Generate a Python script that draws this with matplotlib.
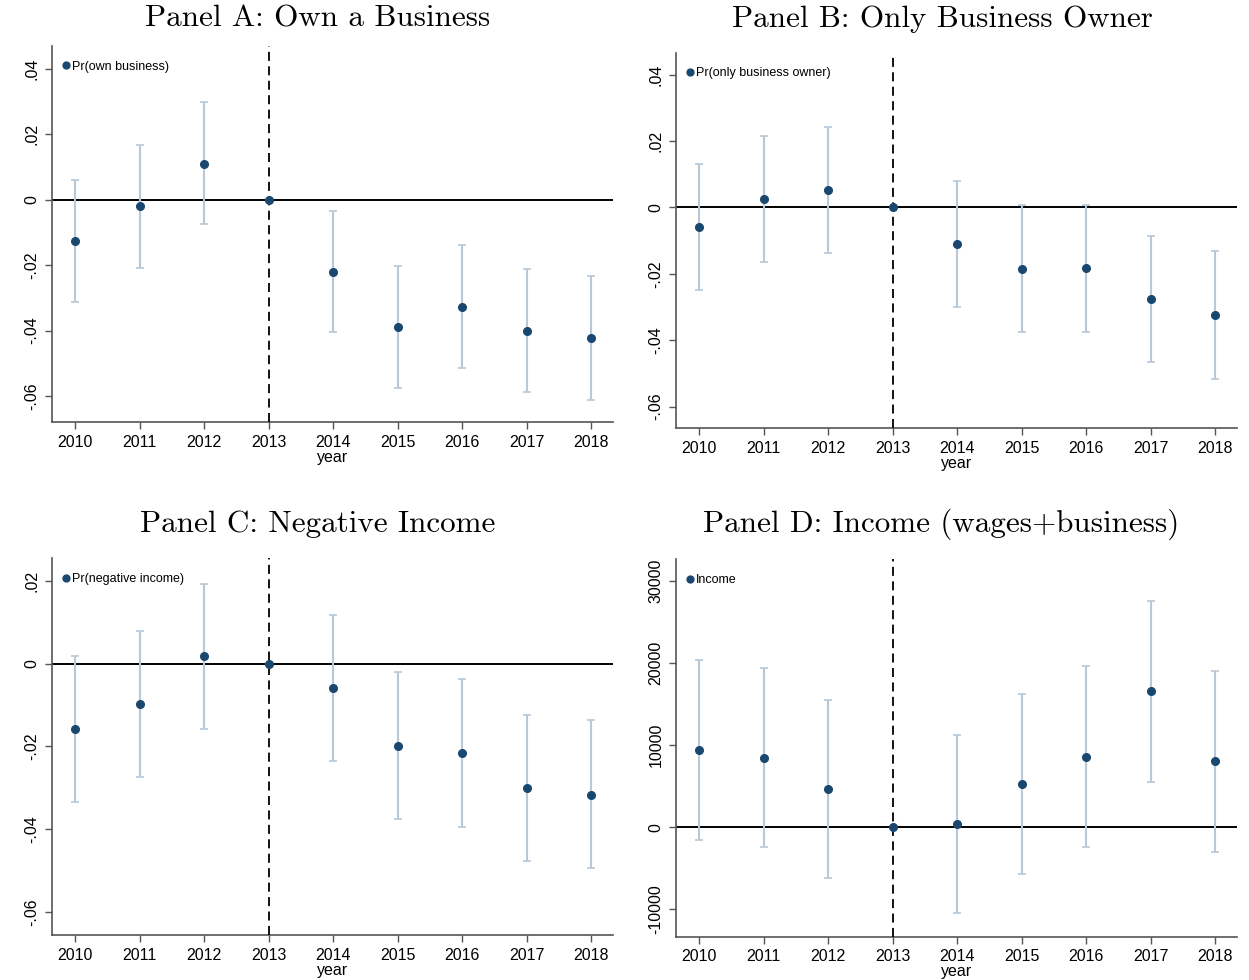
import numpy as np
import matplotlib
matplotlib.use("Agg")
import matplotlib.pyplot as plt

years = [2010, 2011, 2012, 2013, 2014, 2015, 2016, 2017, 2018]

# Panel A: own a business
own_b = [-0.0126, -0.0021, 0.0110, 0.0, -0.0220, -0.0390, -0.0328, -0.0401, -0.0423]
own_hi = [0.0060, 0.0166, 0.0297, 0.0, -0.0034, -0.0202, -0.0140, -0.0213, -0.0234]
own_lo = [-0.0313, -0.0208, -0.0075, 0.0, -0.0406, -0.0575, -0.0514, -0.0589, -0.0613]

# Panel B: only business owner
only_b = [-0.0060, 0.0024, 0.0051, 0.0, -0.0110, -0.0185, -0.0184, -0.0276, -0.0324]
only_hi = [0.0131, 0.0215, 0.0242, 0.0, 0.0080, 0.0006, 0.0008, -0.0087, -0.0132]
only_lo = [-0.0248, -0.0164, -0.0136, 0.0, -0.0300, -0.0375, -0.0375, -0.0467, -0.0516]

# Panel C: negative income
neg_b = [-0.0159, -0.0097, 0.0018, 0.0, -0.0059, -0.0198, -0.0216, -0.0301, -0.0317]
neg_hi = [0.0019, 0.0080, 0.0194, 0.0, 0.0118, -0.0020, -0.0037, -0.0123, -0.0137]
neg_lo = [-0.0335, -0.0273, -0.0159, 0.0, -0.0236, -0.0376, -0.0394, -0.0478, -0.0494]

# Panel D: income
inc_b = [9430, 8490, 4670, 0, 410, 5240, 8620, 16580, 8050]
inc_hi = [20370, 19460, 15560, 0, 11300, 16270, 19630, 27640, 19110]
inc_lo = [-1510, -2360, -6220, 0, -10490, -5690, -2360, 5570, -3000]

prob_ticks = [-0.06, -0.04, -0.02, 0, 0.02, 0.04]
prob_labels = ['-.06', '-.04', '-.02', '0', '.02', '.04']
inc_ticks = [-10000, 0, 10000, 20000, 30000]
inc_labels = ['-10000', '0', '10000', '20000', '30000']

W, H = 1249, 980
navy = '#1a476f'
ci_col = '#b8c8d8'
plt.rcParams['font.family'] = ['Liberation Sans', 'DejaVu Sans']

fig = plt.figure(figsize=(W / 100, H / 100), dpi=100)


def rect(l, t, r, b):
    return [l / W, 1 - b / H, (r - l) / W, (b - t) / H]


def panel(box, b, lo, hi, ylim, yt, ylab, leg):
    ax = fig.add_axes(rect(*box))
    b = np.array(b, dtype=float)
    err = [b - np.array(lo), np.array(hi) - b]
    ax.errorbar(years, b, yerr=err, fmt='none', ecolor=ci_col, elinewidth=1.5,
                capsize=3, capthick=1.2, zorder=2)
    ax.plot(years, b, 'o', color=navy, markersize=5.5, label=leg, zorder=4)
    ax.axhline(0, color='black', lw=1.4, zorder=1)
    ax.axvline(2013, color='black', lw=1.3, ls=(0, (5, 3)), zorder=3)
    ax.set_xlim(2009.64, 2018.34)
    ax.set_ylim(*ylim)
    ax.set_xticks(years)
    ax.set_xticklabels([str(y) for y in years], fontsize=11.5)
    ax.set_yticks(yt)
    ax.set_yticklabels(ylab, fontsize=11.5, rotation=90, va='center')
    ax.set_xlabel('year', fontsize=11.5, labelpad=0)
    for s in ['top', 'right']:
        ax.spines[s].set_visible(False)
    for s in ['left', 'bottom']:
        ax.spines[s].set_color('#555555')
        ax.spines[s].set_linewidth(1.2)
    ax.tick_params(length=5, color='#555555', width=1, pad=4)
    ax.legend(loc='upper left', bbox_to_anchor=(-0.002, 0.984), frameon=False,
              fontsize=9, handletextpad=0.0, handlelength=1.0,
              borderaxespad=0.3, markerscale=0.9)
    return ax


panel((52, 46, 613, 422.5), own_b, own_lo, own_hi, (-0.0681, 0.0469),
      prob_ticks, prob_labels, 'Pr(own business)')
panel((676, 52.7, 1237, 428.5), only_b, only_lo, only_hi, (-0.0666, 0.0466),
      prob_ticks, prob_labels, 'Pr(only business owner)')
panel((52, 558.3, 613, 935), neg_b, neg_lo, neg_hi, (-0.0656, 0.0255),
      prob_ticks[:-1], prob_labels[:-1], 'Pr(negative income)')
panel((676, 559.3, 1237, 936.7), inc_b, inc_lo, inc_hi, (-13340, 32680),
      inc_ticks, inc_labels, 'Income')

titles = [(318, 19, 'Panel A: Own a Business'),
          (942, 19, 'Panel B: Only Business Owner'),
          (318, 524, 'Panel C: Negative Income'),
          (941, 524, 'Panel D: Income (wages+business)')]
for x, y, t in titles:
    fig.text(x / W, 1 - y / H, t, ha='center', va='center', fontsize=22.4,
             family=['cmr10', 'DejaVu Serif'])

fig.savefig('out.png', dpi=100, facecolor='white')
